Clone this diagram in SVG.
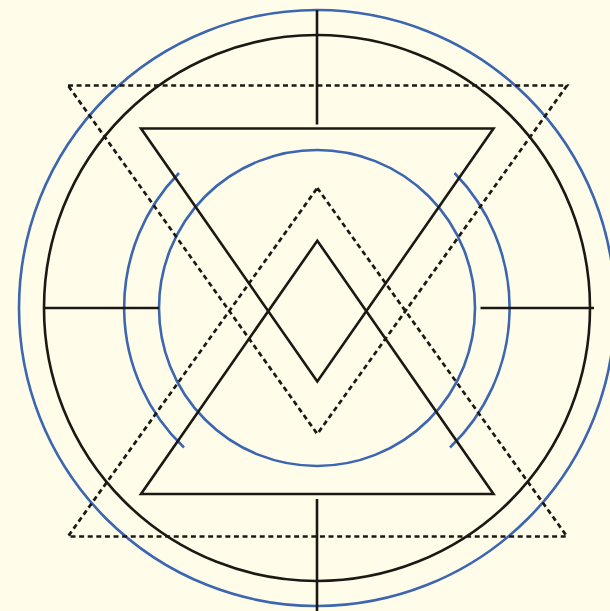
<svg xmlns="http://www.w3.org/2000/svg" width="610" height="611" viewBox="0 0 610 611">
<style>
.k{fill:none;stroke:#1c1915;stroke-width:2.6;stroke-linejoin:miter}
.d{fill:none;stroke:#1c1915;stroke-width:2.7;stroke-dasharray:5 3.6}
.b{fill:none;stroke:#3d66b0;stroke-width:2.6}
</style>
<rect width="610" height="611" fill="#fffcea"/>
<g id="circles">
<circle class="b" cx="317" cy="308" r="298"/>
<circle class="k" cx="317" cy="308" r="273"/>
<circle class="b" cx="317" cy="308" r="158"/>
<path class="b" d="M179,173 A193,193 0 0 0 184,447.5"/>
<path class="b" d="M454.5,173 A193,193 0 0 1 450,447.5"/>
</g>
<g id="ticks">
<line class="k" x1="317" y1="10" x2="317" y2="124.5"/>
<line class="k" x1="317" y1="499" x2="317" y2="611"/>
<line class="k" x1="44" y1="308" x2="159" y2="308"/>
<line class="k" x1="480.5" y1="308" x2="594" y2="308"/>
</g>
<g id="solid-triangles">
<polygon class="k" points="141,128.5 493.5,128.5 317.3,381.5"/>
<polygon class="k" points="317.3,240.7 493.5,494 141,494"/>
</g>
<g id="dashed-triangles">
<polygon class="d" points="68,85.5 567,85.5 317.3,434"/>
<polygon class="d" points="317.3,188 567,536.5 68,536.5"/>
</g>
</svg>
